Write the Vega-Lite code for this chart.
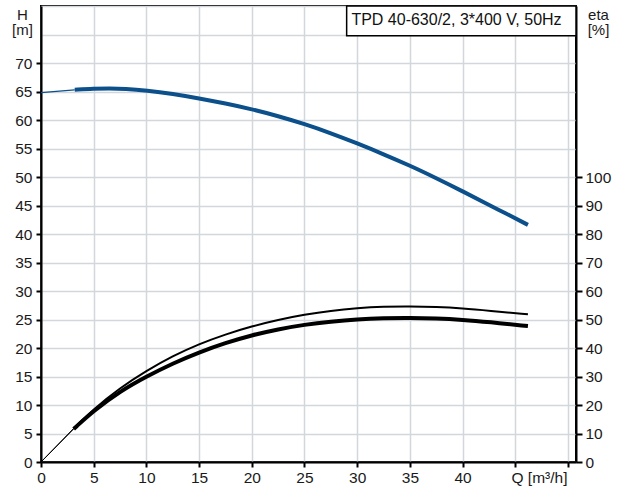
{
  "$schema": "https://vega.github.io/schema/vega-lite/v6.json",
  "autosize": {"type": "none"},
  "width": 535,
  "height": 456,
  "padding": {"left": 41, "top": 6, "right": 45, "bottom": 25},
  "background": "white",
  "config": {
    "view": {"stroke": "black", "strokeWidth": 2},
    "font": "Liberation Sans",
    "axis": {
      "domainColor": "black", "domainWidth": 2,
      "tickColor": "black", "tickWidth": 2, "tickSize": 5,
      "gridColor": "#d3d6da", "gridWidth": 1.5,
      "labelFont": "Liberation Sans", "labelFontSize": 15.5, "labelColor": "#1a1a1a",
      "labelOverlap": false, "labelFlush": false, "labelBound": false, "labelSeparation": 0,
      "titleFont": "Liberation Sans", "titleFontSize": 15, "titleFontWeight": "normal", "titleColor": "#1a1a1a"
    }
  },
  "datasets": {
    "curves": [
      {"curve": "H", "part": "start", "q": 0, "v": 64.8},
      {"curve": "H", "part": "start", "q": 3.2, "v": 65.3},
      {"curve": "H", "part": "main", "q": 3.2, "v": 65.3},
      {"curve": "H", "part": "main", "q": 5, "v": 65.5},
      {"curve": "H", "part": "main", "q": 6.5, "v": 65.55},
      {"curve": "H", "part": "main", "q": 8, "v": 65.5},
      {"curve": "H", "part": "main", "q": 10, "v": 65.2},
      {"curve": "H", "part": "main", "q": 12.5, "v": 64.6},
      {"curve": "H", "part": "main", "q": 15, "v": 63.8},
      {"curve": "H", "part": "main", "q": 17.5, "v": 62.9},
      {"curve": "H", "part": "main", "q": 20, "v": 61.9},
      {"curve": "H", "part": "main", "q": 22.5, "v": 60.7},
      {"curve": "H", "part": "main", "q": 25, "v": 59.3},
      {"curve": "H", "part": "main", "q": 27.5, "v": 57.7},
      {"curve": "H", "part": "main", "q": 30, "v": 55.9},
      {"curve": "H", "part": "main", "q": 32.5, "v": 54.0},
      {"curve": "H", "part": "main", "q": 35, "v": 52.0},
      {"curve": "H", "part": "main", "q": 37.5, "v": 49.8},
      {"curve": "H", "part": "main", "q": 40, "v": 47.5},
      {"curve": "H", "part": "main", "q": 42.5, "v": 45.1},
      {"curve": "H", "part": "main", "q": 44, "v": 43.7},
      {"curve": "H", "part": "main", "q": 46.2, "v": 41.6},
      {"curve": "eta1", "part": "start", "q": 0, "v": 0},
      {"curve": "eta1", "part": "start", "q": 3.1, "v": 11.8},
      {"curve": "eta1", "part": "main", "q": 3.1, "v": 11.8},
      {"curve": "eta1", "part": "main", "q": 5, "v": 18.6},
      {"curve": "eta1", "part": "main", "q": 7.5, "v": 26},
      {"curve": "eta1", "part": "main", "q": 10, "v": 32},
      {"curve": "eta1", "part": "main", "q": 12.5, "v": 37.2},
      {"curve": "eta1", "part": "main", "q": 15, "v": 41.4},
      {"curve": "eta1", "part": "main", "q": 17.5, "v": 44.8},
      {"curve": "eta1", "part": "main", "q": 20, "v": 47.6},
      {"curve": "eta1", "part": "main", "q": 22.5, "v": 49.9},
      {"curve": "eta1", "part": "main", "q": 25, "v": 51.7},
      {"curve": "eta1", "part": "main", "q": 27.5, "v": 53.1},
      {"curve": "eta1", "part": "main", "q": 30, "v": 54.0},
      {"curve": "eta1", "part": "main", "q": 32.5, "v": 54.5},
      {"curve": "eta1", "part": "main", "q": 35, "v": 54.6},
      {"curve": "eta1", "part": "main", "q": 37.5, "v": 54.4},
      {"curve": "eta1", "part": "main", "q": 40, "v": 53.9},
      {"curve": "eta1", "part": "main", "q": 42.5, "v": 53.1},
      {"curve": "eta1", "part": "main", "q": 46.2, "v": 51.8},
      {"curve": "eta2", "part": "start", "q": 0, "v": 0},
      {"curve": "eta2", "part": "start", "q": 3.1, "v": 11.6},
      {"curve": "eta2", "part": "main", "q": 3.1, "v": 11.6},
      {"curve": "eta2", "part": "main", "q": 5, "v": 18},
      {"curve": "eta2", "part": "main", "q": 7.5, "v": 24.8},
      {"curve": "eta2", "part": "main", "q": 10, "v": 30.0},
      {"curve": "eta2", "part": "main", "q": 12.5, "v": 34.6},
      {"curve": "eta2", "part": "main", "q": 15, "v": 38.5},
      {"curve": "eta2", "part": "main", "q": 17.5, "v": 41.8},
      {"curve": "eta2", "part": "main", "q": 20, "v": 44.5},
      {"curve": "eta2", "part": "main", "q": 22.5, "v": 46.6},
      {"curve": "eta2", "part": "main", "q": 25, "v": 48.2},
      {"curve": "eta2", "part": "main", "q": 27.5, "v": 49.3},
      {"curve": "eta2", "part": "main", "q": 30, "v": 50.1},
      {"curve": "eta2", "part": "main", "q": 32.5, "v": 50.5},
      {"curve": "eta2", "part": "main", "q": 35, "v": 50.6},
      {"curve": "eta2", "part": "main", "q": 37.5, "v": 50.4},
      {"curve": "eta2", "part": "main", "q": 40, "v": 49.9},
      {"curve": "eta2", "part": "main", "q": 42.5, "v": 49.1},
      {"curve": "eta2", "part": "main", "q": 46.2, "v": 47.7}
    ]
  },
  "layer": [
    {
      "layer": [
        {
          "data": {"name": "curves"},
          "transform": [{"filter": "datum.curve == 'H' && datum.part == 'main'"}],
          "mark": {"type": "line", "color": "#0b4f8b", "strokeWidth": 4, "interpolate": "basis", "strokeCap": "butt"},
          "encoding": {
            "x": {
              "field": "q", "type": "quantitative",
              "scale": {"domain": [0, 50.76], "nice": false, "zero": false},
              "axis": {
                "title": null,
                "values": [0, 5, 10, 15, 20, 25, 30, 35, 40, 45, 50],
                "grid": true,
                "tickSize": 5,
                "labelPadding": 3,
                "labelExpr": "datum.value == 50 ? 'Q [m³/h]' : (datum.value == 45 ? '' : datum.label)",
                "labelAlign": {"condition": {"test": "datum.value == 50", "value": "right"}, "value": "center"},
                "labelOffset": {"condition": {"test": "datum.value == 50", "value": -1}, "value": 0}
              }
            },
            "y": {
              "field": "v", "type": "quantitative",
              "scale": {"domain": [0, 80], "nice": false, "zero": false},
              "axis": {
                "tickCount": 16,
                "grid": true,
                "tickSize": 5,
                "labelPadding": 4,
                "labelOverlap": false,
                "labelExpr": "datum.value > 70 ? '' : datum.label",
                "tickOpacity": {"condition": {"test": "datum.value > 70", "value": 0}, "value": 1},
                "title": ["H", "[m]"],
                "titleAngle": 0,
                "titleAlign": "center",
                "titleBaseline": "top",
                "titleX": -19,
                "titleY": 1,
                "titleLineHeight": 15
              }
            }
          }
        },
        {
          "data": {"name": "curves"},
          "transform": [{"filter": "datum.curve == 'H' && datum.part == 'start'"}],
          "mark": {"type": "line", "color": "#0b4f8b", "strokeWidth": 1.2, "interpolate": "linear"},
          "encoding": {
            "x": {"field": "q", "type": "quantitative"},
            "y": {"field": "v", "type": "quantitative"}
          }
        }
      ]
    },
    {
      "data": {"name": "curves"},
      "layer": [
        {
          "transform": [{"filter": "datum.curve == 'eta2' && datum.part == 'main'"}],
          "mark": {"type": "line", "color": "black", "strokeWidth": 4, "interpolate": "basis", "strokeCap": "butt"},
          "encoding": {
            "x": {"field": "q", "type": "quantitative"},
            "y": {
              "field": "v", "type": "quantitative",
              "scale": {"domain": [0, 160], "nice": false, "zero": false},
              "axis": {
                "orient": "right",
                "values": [0, 10, 20, 30, 40, 50, 60, 70, 80, 90, 100],
                "grid": false,
                "tickSize": 6,
                "labelPadding": 3,
                "title": ["eta", "[%]"],
                "titleAngle": 0,
                "titleAlign": "center",
                "titleBaseline": "top",
                "titleX": 22,
                "titleY": 1,
                "titleLineHeight": 15
              }
            }
          }
        },
        {
          "transform": [{"filter": "datum.curve == 'eta1' && datum.part == 'main'"}],
          "mark": {"type": "line", "color": "black", "strokeWidth": 2, "interpolate": "basis", "strokeCap": "butt"},
          "encoding": {
            "x": {"field": "q", "type": "quantitative"},
            "y": {"field": "v", "type": "quantitative"}
          }
        },
        {
          "transform": [{"filter": "datum.part == 'start' && datum.curve != 'H'"}],
          "mark": {"type": "line", "color": "black", "strokeWidth": 1, "interpolate": "linear"},
          "encoding": {
            "x": {"field": "q", "type": "quantitative"},
            "y": {"field": "v", "type": "quantitative"},
            "detail": {"field": "curve"}
          }
        },
        {
          "data": {"values": [{}]},
          "mark": {"type": "rect", "fill": "white", "stroke": "black", "strokeWidth": 1.5},
          "encoding": {
            "x": {"datum": 29.0, "type": "quantitative"},
            "x2": {"datum": 50.76},
            "y": {"datum": 149.6, "type": "quantitative"},
            "y2": {"datum": 160}
          }
        },
        {
          "data": {"values": [{}]},
          "mark": {"type": "text", "text": "TPD 40-630/2, 3*400 V, 50Hz", "align": "left", "baseline": "middle", "fontSize": 16, "font": "Liberation Sans", "color": "#111"},
          "encoding": {
            "x": {"datum": 29.45, "type": "quantitative"},
            "y": {"datum": 155, "type": "quantitative"}
          }
        }
      ]
    }
  ],
  "resolve": {"scale": {"y": "independent"}}
}
